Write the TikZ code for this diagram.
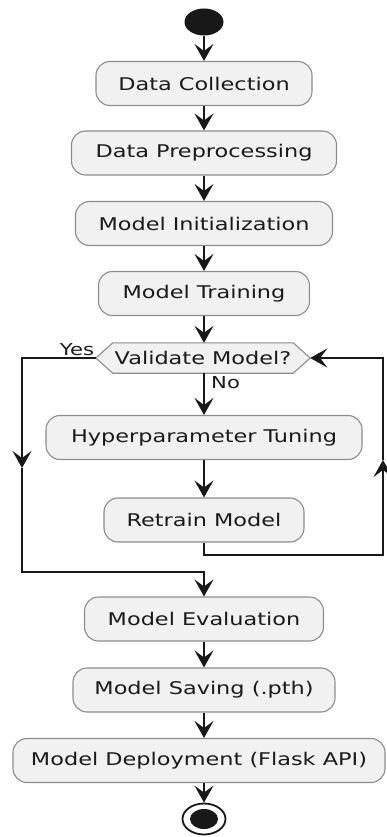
\documentclass[tikz,border=0pt]{standalone}
\usepackage{fontspec}
\setmainfont[FakeStretch=1.28]{DejaVu Sans}
\usetikzlibrary{arrows.meta,shapes.geometric}
\definecolor{boxfill}{HTML}{F1F1F1}
\definecolor{boxline}{HTML}{8C8C8C}
\definecolor{linec}{HTML}{181818}
\definecolor{txt}{HTML}{1A1A1A}
\tikzset{
  actbox/.style={draw=boxline, fill=boxfill, line width=1.1pt, rounded corners=14pt,
    font=\fontsize{17.5}{20}\selectfont, text=txt, minimum height=44pt, inner sep=0pt},
  flow/.style={draw=linec, line width=1.8pt, -{Stealth[length=17pt,width=19pt,inset=7pt]}},
  lbl/.style={font=\fontsize{16.5}{18}\selectfont, text=txt, inner sep=0pt}
}
\begin{document}
\begin{tikzpicture}[x=1pt,y=-1pt]
\useasboundingbox (0,0) rectangle (386,837);
% start
\node[ellipse, fill=linec, minimum width=39pt, minimum height=27pt, inner sep=0pt] (start) at (204,22) {};
% activities
\node[actbox, minimum width=216pt] (dc) at (204,83.5) {Data Collection};
\node[actbox, minimum width=265pt] (dp) at (204,153) {Data Preprocessing};
\node[actbox, minimum width=257pt] (mi) at (204,223.5) {Model Initialization};
\node[actbox, minimum width=211pt] (mt) at (204,293.5) {Model Training};
% decision
\node[minimum width=214pt, minimum height=30pt, inner sep=0pt] (hex) at (203,358) {};
\draw[draw=boxline, fill=boxfill, line width=1.1pt]
  (hex.west) -- ([xshift=17pt]hex.north west) -- ([xshift=-17pt]hex.north east) -- (hex.east)
  -- ([xshift=-17pt]hex.south east) -- ([xshift=17pt]hex.south west) -- cycle;
\node[font=\fontsize{17.5}{20}\selectfont, text=txt, inner sep=0pt] (hext) at (hex.center) {Validate Model?};
\node[actbox, minimum width=316pt] (hp) at (204,437.5) {Hyperparameter Tuning};
\node[actbox, minimum width=200pt] (rm) at (204,520) {Retrain Model};
\node[actbox, minimum width=239pt] (me) at (204,619) {Model Evaluation};
\node[actbox, minimum width=262pt] (ms) at (204,690) {Model Saving (.pth)};
\node[actbox, minimum width=372pt] (md) at (199,760.5) {Model Deployment (Flask API)};
% end
\node[ellipse, draw=linec, line width=1.8pt, fill=white, minimum width=43pt, minimum height=31pt, inner sep=0pt] (stop) at (204,819) {};
\node[ellipse, fill=linec, minimum width=28pt, minimum height=20pt, inner sep=0pt] (stopin) at (204,819) {};
% labels
\node[lbl] (yes) at (77,350) {Yes};
\node[lbl, anchor=west] (no) at (211,383) {No};
% coordinates
\coordinate (l1) at (22,358);
\coordinate (l2) at (22,468);
\coordinate (l3) at (22,572);
\coordinate (l4) at (204,572);
\coordinate (r1) at (204,555);
\coordinate (r2) at (383,555);
\coordinate (r3) at (383,460);
\coordinate (r4) at (383,358);
% connectors
\draw[flow] (start) -- (dc);
\draw[flow] (dc) -- (dp);
\draw[flow] (dp) -- (mi);
\draw[flow] (mi) -- (mt);
\draw[flow] (mt.south) -- (mt.south |- hex.north);
\draw[flow] (hex.south -| mt.south) -- (hp.north);
\draw[flow] (hp) -- (rm);
\draw[flow] (hex.west) -- (l1) -- (l2);
\draw[flow] (l2) -- (l3) -- (l4) -- (me.north);
\draw[flow] (rm.south) -- (r1) -- (r2) -- (r3);
\draw[flow] (r3) -- (r4) -- (hex.east);
\draw[flow] (me) -- (ms);
\draw[flow] (ms.south) -- (ms.south |- md.north);
\draw[flow] (ms.south |- md.south) -- (stop.north);
\end{tikzpicture}
\end{document}
